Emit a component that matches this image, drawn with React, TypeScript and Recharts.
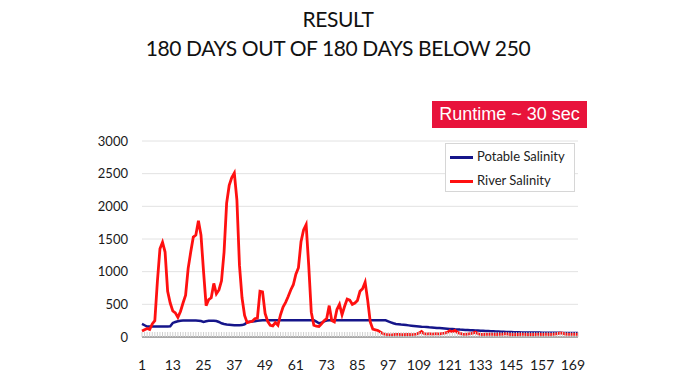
import React from 'react';
import { CartesianGrid, Line, LineChart, XAxis, YAxis } from 'recharts';

const days = Array.from({ length: 171 }, (_, i) => i + 1);

const riverSalinity = [
  90, 110, 130, 115, 200, 250, 850, 1350, 1450, 1300,
  700, 520, 400, 370, 300, 390, 520, 640, 1050, 1300,
  1530, 1560, 1780, 1560, 1000, 480, 570, 600, 820, 660,
  720, 860, 1300, 2050, 2320, 2440, 2510, 2100, 1100, 600,
  330, 220, 230, 240, 280, 290, 700, 690, 360, 240,
  180, 170, 220, 180, 340, 460, 530, 620, 720, 800,
  960, 1060, 1460, 1640, 1720, 1100, 380, 180, 165, 160,
  200, 250, 280, 480, 250, 230, 420, 500, 340, 470,
  580, 565, 500, 520, 560, 700, 740, 840, 560, 230,
  120, 110, 100, 75, 50, 40, 35, 30, 35, 40,
  40, 35, 35, 40, 38, 36, 40, 45, 60, 85,
  50, 45, 50, 45, 48, 50, 45, 55, 60, 70,
  95, 80, 100, 70, 55, 45, 40, 45, 50, 60,
  75, 50, 40, 38, 42, 40, 45, 40, 38, 42,
  40, 45, 50, 40, 38, 35, 40, 38, 42, 40,
  38, 36, 40, 38, 40, 42, 38, 40, 42, 38,
  40, 45, 50, 58, 60, 45, 42, 40, 42, 40,
  42,
];

const potableSalinity = [
  200, 180, 160, 160, 160, 160, 160, 160, 160, 160,
  160, 165, 215, 230, 240, 250, 252, 252, 252, 252,
  252, 252, 250, 245, 232, 242, 250, 250, 250, 245,
  230, 210, 200, 192, 188, 184, 180, 180, 180, 182,
  195, 225, 232, 238, 242, 248, 252, 255, 255, 255,
  255, 255, 255, 255, 255, 255, 255, 255, 255, 255,
  255, 255, 255, 255, 255, 255, 255, 255, 235, 210,
  218, 240, 252, 255, 255, 255, 255, 255, 255, 255,
  255, 255, 255, 255, 255, 255, 255, 255, 255, 255,
  255, 255, 255, 255, 255, 255, 240, 225, 210, 200,
  195, 190, 186, 182, 178, 174, 170, 166, 162, 158,
  155, 152, 148, 145, 142, 139, 136, 133, 130, 127,
  124, 121, 118, 116, 113, 111, 109, 107, 105, 103,
  101, 99, 97, 95, 93, 91, 89, 87, 85, 83,
  81, 79, 77, 76, 75, 74, 72, 71, 70, 70,
  69, 69, 68, 68, 67, 67, 66, 66, 65, 65,
  65, 64, 64, 64, 63, 63, 63, 63, 62, 62,
  62,
];

const dayLabels = [1, 13, 25, 37, 49, 61, 73, 85, 97, 109, 121, 133, 145, 157, 169];
const yTicks = [0, 500, 1000, 1500, 2000, 2500, 3000];

const data = days.map((d, i) => ({
  day: d,
  potable: potableSalinity[i],
  river: riverSalinity[i],
}));

const DayTick = (props: any) => {
  const { x, y, payload } = props;
  return (
    <g>
      <line x1={x} x2={x} y1={y - 5} y2={y} stroke="#cfcfcf" strokeWidth={1} />
      {dayLabels.includes(payload.value) && (
        <text x={x} y={y + 33} textAnchor="middle" fontSize={14} fill="#1a1a1a" fontFamily="Lato">
          {payload.value}
        </text>
      )}
    </g>
  );
};

export default function App() {
  return (
    <div style={{ position: 'absolute', left: 0, top: 0, width: 700, height: 389, background: '#fff', fontFamily: 'Lato' }}>
      <div style={{ position: 'absolute', left: 0, top: 4, width: 676, textAlign: 'center', fontSize: 21, lineHeight: '29px', letterSpacing: -0.4, color: '#111' }}>
        RESULT
        <br />
        180 DAYS OUT OF 180 DAYS BELOW 250
      </div>

      <LineChart width={700} height={389} data={data} margin={{ top: 141, right: 122, bottom: 12, left: 102 }}>
        <CartesianGrid vertical={false} stroke="#e2e2e2" />
        <XAxis
          dataKey="day"
          interval={0}
          tickLine={false}
          tickSize={0}
          tickMargin={0}
          height={40}
          axisLine={{ stroke: '#a8a8a8', strokeWidth: 2 }}
          tick={<DayTick />}
        />
        <YAxis
          domain={[0, 3000]}
          ticks={yTicks}
          width={40}
          axisLine={false}
          tickLine={false}
          tickSize={0}
          tickMargin={14}
          tick={{ fontSize: 13, fill: '#1a1a1a', fontFamily: 'Lato' }}
        />
        <Line dataKey="potable" name="Potable Salinity" stroke="#15158a" strokeWidth={2.5} dot={false} isAnimationActive={false} />
        <Line dataKey="river" name="River Salinity" stroke="#ff1010" strokeWidth={2.8} dot={false} isAnimationActive={false} />
      </LineChart>

      <div style={{ position: 'absolute', left: 445, top: 143, width: 130, height: 49, border: '1px solid #d6d6d6', background: '#fff', boxSizing: 'border-box', fontSize: 13, color: '#222' }}>
        <div style={{ position: 'absolute', left: 4, top: 12, width: 23, height: 2.5, background: '#15158a' }} />
        <div style={{ position: 'absolute', left: 31, top: 4, lineHeight: '16px' }}>Potable Salinity</div>
        <div style={{ position: 'absolute', left: 4, top: 36, width: 23, height: 2.5, background: '#ff1010' }} />
        <div style={{ position: 'absolute', left: 31, top: 28, lineHeight: '16px' }}>River Salinity</div>
      </div>

      <div style={{ position: 'absolute', left: 432, top: 101, width: 155, height: 27, background: '#e8133b', color: '#fff', fontFamily: 'Liberation Sans', fontSize: 18, lineHeight: '27px', textAlign: 'center' }}>
        Runtime ~ 30 sec
      </div>
    </div>
  );
}
